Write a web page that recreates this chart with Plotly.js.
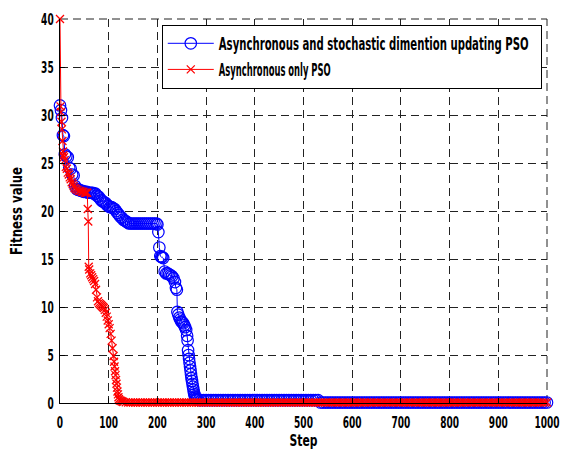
<!DOCTYPE html>
<html>
<head>
<meta charset="utf-8">
<script src="https://cdn.plot.ly/plotly-3.0.1.min.js"></script>
<style>html,body{margin:0;padding:0;background:#fff;}#chart{width:563px;height:450px;}</style>
</head>
<body>
<div id="chart"></div>
<script>
// Series 1: Asynchronous and stochastic dimention updating PSO
const blueSteps = [
  0,2,4,6,8,10,13,16,19,22,
  25,28,31,34,37,40,43,46,49,52,
  55,58,61,64,67,70,73,76,79,82,
  85,88,91,94,97,100,103,106,109,112,
  115,118,121,124,127,130,133,136,139,142,
  146,150,154,158,162,166,170,174,178,182,
  186,190,194,198,200,202,204,206,208,210,
  212,215,218,221,224,227,230,233,236,238,
  240,241,243,245,247,249,251,253,255,257,
  259,261,262,263,264,265,266,267,268,269,
  270,271,272,273,274,275,276,277,278,279,
  280,282,285,
  290,295,300,305,310,315,320,325,330,335,340,345,350,355,360,365,370,375,380,385,
  390,395,400,405,410,415,420,425,430,435,440,445,450,455,460,465,470,475,480,485,
  490,495,500,505,510,515,520,525,530,
  535,540,545,550,555,560,565,570,575,580,585,590,595,600,605,610,615,620,625,630,
  635,640,645,650,655,660,665,670,675,680,685,690,695,700,705,710,715,720,725,730,
  735,740,745,750,755,760,765,770,775,780,785,790,795,800,805,810,815,820,825,830,
  835,840,845,850,855,860,865,870,875,880,885,890,895,900,905,910,915,920,925,930,
  935,940,945,950,955,960,965,970,975,980,985,990,995,1000
];
const blueFitness = [
  31.0,30.5,29.7,27.9,27.8,25.9,25.7,25.6,24.5,24.4,
  23.8,23.7,22.6,22.3,22.2,22.2,22.1,22.1,22.0,22.0,
  22.0,21.9,21.9,21.9,21.9,21.8,21.8,21.6,21.5,21.3,
  21.1,21.0,20.9,20.8,20.6,20.5,20.4,20.4,20.3,20.2,
  20.0,19.8,19.6,19.4,19.3,19.1,19.0,18.9,18.8,18.7,
  18.7,18.7,18.7,18.7,18.7,18.7,18.7,18.7,18.7,18.7,
  18.7,18.7,18.7,18.7,18.6,17.8,16.2,15.3,15.2,15.2,
  15.1,13.7,13.5,13.5,13.4,13.3,13.2,13.0,12.6,12.0,
  11.8,9.5,9.2,8.9,8.7,8.5,8.4,8.3,8.1,7.9,
  7.6,7.0,6.5,5.5,5.0,4.6,4.2,3.8,3.4,3.0,
  2.6,2.3,2.0,1.7,1.4,1.1,0.9,0.7,0.55,0.45,
  0.4,0.35,0.3,
  0.3,0.3,0.3,0.3,0.3,0.3,0.3,0.3,0.3,0.3,0.3,0.3,0.3,0.3,0.3,0.3,0.3,0.3,0.3,0.3,
  0.3,0.3,0.3,0.3,0.3,0.3,0.3,0.3,0.3,0.3,0.3,0.3,0.3,0.3,0.3,0.3,0.3,0.3,0.3,0.3,
  0.3,0.3,0.3,0.3,0.3,0.3,0.3,0.3,0.3,
  0.05,0.05,0.05,0.05,0.05,0.05,0.05,0.05,0.05,0.05,0.05,0.05,0.05,0.05,0.05,0.05,0.05,0.05,0.05,0.05,
  0.05,0.05,0.05,0.05,0.05,0.05,0.05,0.05,0.05,0.05,0.05,0.05,0.05,0.05,0.05,0.05,0.05,0.05,0.05,0.05,
  0.05,0.05,0.05,0.05,0.05,0.05,0.05,0.05,0.05,0.05,0.05,0.05,0.05,0.05,0.05,0.05,0.05,0.05,0.05,0.05,
  0.05,0.05,0.05,0.05,0.05,0.05,0.05,0.05,0.05,0.05,0.05,0.05,0.05,0.05,0.05,0.05,0.05,0.05,0.05,0.05,
  0.05,0.05,0.05,0.05,0.05,0.05,0.05,0.05,0.05,0.05,0.05,0.05,0.05,0.05
];
// Series 2: Asynchronous only PSO
const redSteps = [
  0,1,2,3,4,5,6,7,8,10,
  12,14,16,18,20,22,24,26,28,30,
  33,36,39,42,45,48,51,54,56,57,
  58,59,60,62,64,66,68,70,72,74,
  76,78,80,82,84,86,88,90,92,94,
  96,98,100,102,104,106,108,110,111,112,
  113,114,115,116,117,118,119,120,121,122,
  124,126,128,130,135,
  140,145,150,155,160,165,170,175,180,185,190,195,200,205,210,215,220,225,230,235,
  240,245,250,255,260,265,270,275,280,285,290,295,300,305,310,315,320,325,330,335,
  340,345,350,355,360,365,370,375,380,385,390,395,400,405,410,415,420,425,430,435,
  440,445,450,455,460,465,470,475,480,485,490,495,500,505,510,515,520,525,530,535,
  540,545,550,555,560,565,570,575,580,585,590,595,600,605,610,615,620,625,630,635,
  640,645,650,655,660,665,670,675,680,685,690,695,700,705,710,715,720,725,730,735,
  740,745,750,755,760,765,770,775,780,785,790,795,800,805,810,815,820,825,830,835,
  840,845,850,855,860,865,870,875,880,885,890,895,900,905,910,915,920,925,930,935,
  940,945,950,955,960,965,970,975,980,985,990,995,1000
];
const redFitness = [
  40,30.9,30.3,29.3,28.5,27.3,26.2,25.8,25.6,25.3,
  24.6,24.4,24.0,23.8,23.5,23.3,23.0,22.8,22.6,22.4,
  22.3,22.2,22.1,22.1,22.0,22.0,21.9,21.9,21.9,20.2,
  18.9,14.2,13.9,13.5,13.3,13.1,12.9,12.7,12.4,11.8,
  11.0,10.6,10.4,10.3,10.2,10.1,10.0,9.9,9.7,9.4,
  9.0,8.6,8.2,7.8,7.2,6.5,5.7,4.9,4.3,3.8,
  3.3,2.9,2.4,2.0,1.6,1.2,0.9,0.6,0.4,0.3,
  0.25,0.2,0.15,0.1,0.08,
  0.05,0.05,0.05,0.05,0.05,0.05,0.05,0.05,0.05,0.05,0.05,0.05,0.05,0.05,0.05,0.05,0.05,0.05,0.05,0.05,
  0.05,0.05,0.05,0.05,0.05,0.05,0.05,0.05,0.05,0.05,0.05,0.05,0.05,0.05,0.05,0.05,0.05,0.05,0.05,0.05,
  0.05,0.05,0.05,0.05,0.05,0.05,0.05,0.05,0.05,0.05,0.05,0.05,0.05,0.05,0.05,0.05,0.05,0.05,0.05,0.05,
  0.05,0.05,0.05,0.05,0.05,0.05,0.05,0.05,0.05,0.05,0.05,0.05,0.05,0.05,0.05,0.05,0.05,0.05,0.05,0.05,
  0.05,0.05,0.05,0.05,0.05,0.05,0.05,0.05,0.05,0.05,0.05,0.05,0.05,0.05,0.05,0.05,0.05,0.05,0.05,0.05,
  0.05,0.05,0.05,0.05,0.05,0.05,0.05,0.05,0.05,0.05,0.05,0.05,0.05,0.05,0.05,0.05,0.05,0.05,0.05,0.05,
  0.05,0.05,0.05,0.05,0.05,0.05,0.05,0.05,0.05,0.05,0.05,0.05,0.05,0.05,0.05,0.05,0.05,0.05,0.05,0.05,
  0.05,0.05,0.05,0.05,0.05,0.05,0.05,0.05,0.05,0.05,0.05,0.05,0.05,0.05,0.05,0.05,0.05,0.05,0.05,0.05,
  0.05,0.05,0.05,0.05,0.05,0.05,0.05,0.05,0.05,0.05,0.05,0.05,0.05
];
const seriesNames = ["Asynchronous and stochastic dimention updating PSO", "Asynchronous only PSO"];
const xTicks = [0,100,200,300,400,500,600,700,800,900,1000];
const yTicks = [0,5,10,15,20,25,30,35,40];

const FONT = "'DejaVu Sans', sans-serif";
const GRID_COLOR = '#222';
const GRID_DASH = '8px,5px';

const traces = [
  {
    x: blueSteps, y: blueFitness, name: seriesNames[0], type: 'scatter', mode: 'lines+markers',
    legendgroup: 'a', cliponaxis: false,
    line: {color: '#0000ff', width: 1},
    marker: {symbol: 'circle-open', size: 11.5, color: '#0000ff', line: {width: 1.2, color: '#0000ff'}}
  },
  {
    x: redSteps, y: redFitness, name: seriesNames[1], type: 'scatter', mode: 'lines+markers',
    legendgroup: 'b', cliponaxis: false,
    line: {color: '#ff0000', width: 1},
    marker: {symbol: 'x-thin-open', size: 8, color: '#ff0000', line: {width: 1.3, color: '#ff0000'}}
  }
];

const axisCommon = {
  showline: true, linecolor: '#000', linewidth: 1, mirror: false,
  ticks: 'inside', ticklen: 5, tickcolor: '#000', tickwidth: 1,
  showgrid: true, gridcolor: GRID_COLOR, gridwidth: 1, griddash: GRID_DASH,
  zeroline: false, ticklabeloverflow: 'allow',
  tickfont: {family: FONT, size: 16.5, color: '#000', weight: 'bold'}
};

const layout = {
  width: 563, height: 450,
  margin: {l: 60, r: 16, t: 19, b: 47, autoexpand: false},
  paper_bgcolor: '#fff', plot_bgcolor: '#fff',
  showlegend: true,
  xaxis: Object.assign({}, axisCommon, {
    range: [0, 1000], tickvals: xTicks, ticktext: xTicks.map(String),
    ticklabelstandoff: 4,
    title: {text: 'Step', standoff: 6, font: {family: FONT, size: 15, color: '#000', weight: 'bold'}}
  }),
  yaxis: Object.assign({}, axisCommon, {
    range: [0, 40], tickvals: yTicks, ticktext: yTicks.map(String),
    ticklabelstandoff: 2,
    title: {text: 'Fitness value', standoff: 4, font: {family: FONT, size: 15, color: '#000', weight: 'bold'}}
  }),
  // grid lines at the top (y = 40) and right (x = 1000) edges of the axes box
  shapes: [
    {type: 'line', xref: 'paper', yref: 'paper', x0: 0, x1: 1, y0: 1, y1: 1, layer: 'below',
     line: {color: GRID_COLOR, width: 1, dash: GRID_DASH}},
    {type: 'line', xref: 'paper', yref: 'paper', x0: 1, x1: 1, y0: 0, y1: 1, layer: 'below',
     line: {color: GRID_COLOR, width: 1, dash: GRID_DASH}}
  ],
  legend: {
    x: 0.209, y: 0.985, xanchor: 'left', yanchor: 'top',
    bgcolor: '#fff', bordercolor: '#000', borderwidth: 1,
    tracegroupgap: 1, itemwidth: 46,
    font: {family: FONT, size: 17, color: '#000', weight: 'bold'}
  }
};

// The original uses a very condensed bold face: compress each text horizontally
// about its anchor point (x, y), keeping it as real text.
function squeezeEl(t, target) {
  const w = t.getComputedTextLength();
  if (!w) return;
  const sx = target / w;
  const x = parseFloat(t.getAttribute('x')) || 0;
  const y = parseFloat(t.getAttribute('y')) || 0;
  const prev = t.getAttribute('transform') || '';
  t.setAttribute('transform', prev + ' translate(' + x + ',' + y + ') scale(' + sx + ',1) translate(' + (-x) + ',' + (-y) + ')');
}

Plotly.newPlot('chart', traces, layout, {staticPlot: true, displayModeBar: false}).then(function (gd) {
  gd.querySelectorAll('.xtick text, .ytick text').forEach(function (t) {
    squeezeEl(t, t.textContent.length * 6.3);
  });
  const xt = gd.querySelector('.g-xtitle text');
  if (xt) squeezeEl(xt, 28);
  const yt = gd.querySelector('.g-ytitle text');
  if (yt) squeezeEl(yt, 88);
  const legendWidths = [310, 112];
  gd.querySelectorAll('.legend .traces').forEach(function (g, i) {
    const t = g.querySelector('.legendtext');
    if (t) squeezeEl(t, legendWidths[i]);
  });
  const bg = gd.querySelector('.legend rect.bg');
  if (bg) bg.setAttribute('width', 379);
});
</script>
</body>
</html>
